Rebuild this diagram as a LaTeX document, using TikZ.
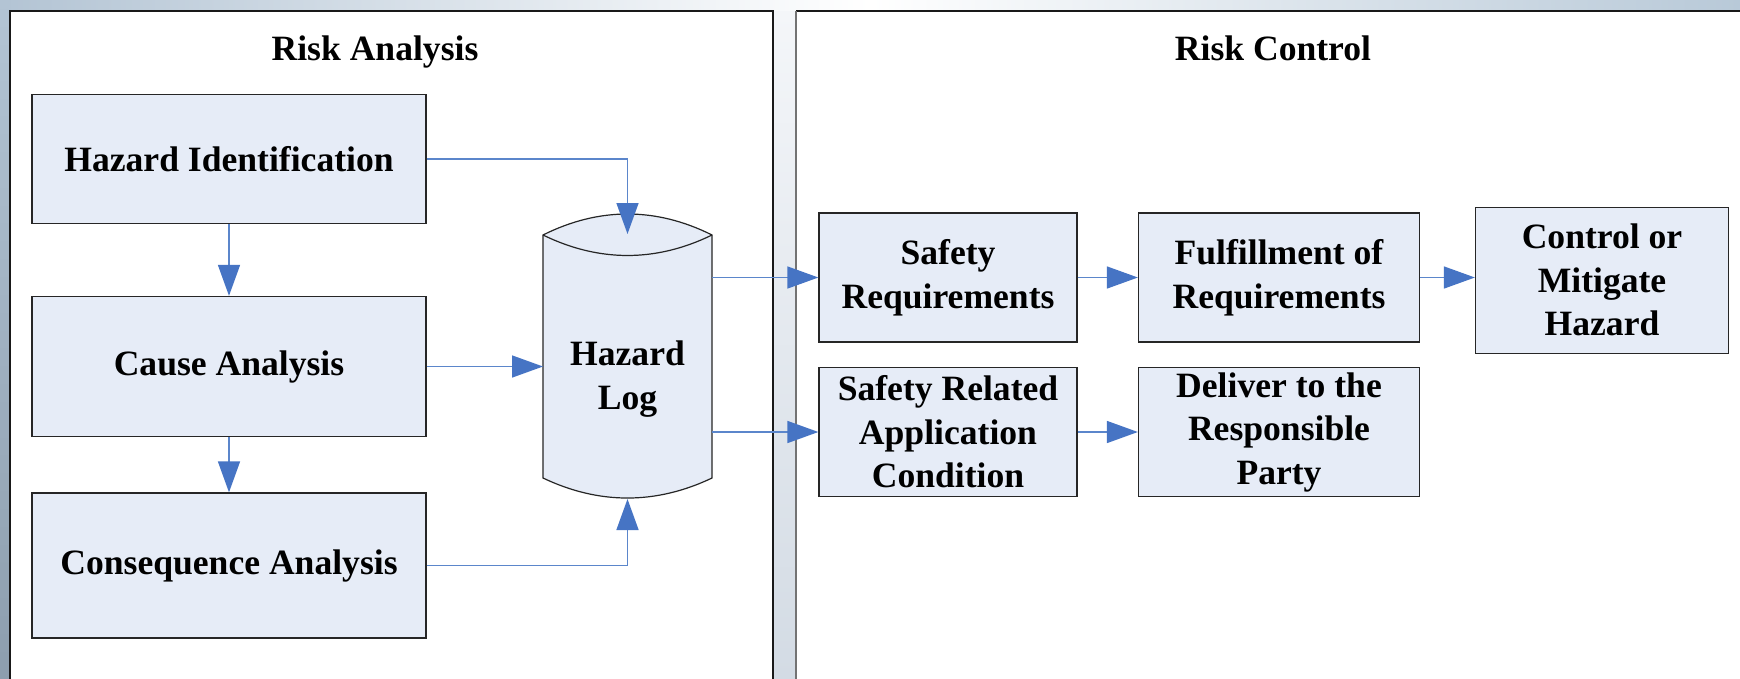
\documentclass[tikz,border=0pt]{standalone}
\usepackage{fontspec}
\setmainfont{Liberation Serif}
\usetikzlibrary{arrows.meta,calc}
\definecolor{boxfill}{HTML}{E6ECF7}
\definecolor{arrline}{HTML}{5B86CB}
\definecolor{arrhead}{HTML}{4674C4}
\definecolor{bgL}{HTML}{B3C4D4}
\definecolor{bgR}{HTML}{B8C9D8}
\definecolor{bgLdark}{HTML}{8D9EAE}
\definecolor{gapTop}{HTML}{F4F6F9}
\definecolor{gapBot}{HTML}{D3DBE4}
\begin{document}
\begin{tikzpicture}[x=1pt,y=-1pt,
  lbl/.style={font=\fontsize{35.6}{43.5}\selectfont\bfseries, align=center},
  box/.style={lbl, draw=black!85, line width=1.3pt, fill=boxfill, inner sep=0pt},
  arr/.style={draw=arrline, line width=1.5pt, -{Triangle[length=31pt,width=22pt,color=arrhead]}},
  title/.style={lbl, anchor=base},
  cyl/.style={draw=black!85, line width=1.2pt, fill=boxfill}
]
\useasboundingbox (0,0) rectangle (1740,678);
\clip (0,0) rectangle (1740,678);
% background
\shade[left color=bgL, right color=bgR, middle color=white] (0,0) rectangle (1740,678);
\shade[top color=bgL, bottom color=bgLdark] (0,0) rectangle (10,678);
\shade[top color=gapTop, bottom color=gapBot] (773,11) rectangle (796,678);
% panels
\path[fill=white] (10,11) rectangle (773,690);
\draw[black!90, line width=1.3pt] (10,690) -- (10,11) -- (773,11) -- (773,690);
\path[fill=white] (796,11) rectangle (1750,690);
\draw[black!90, line width=1.3pt] (796,11) -- (1750,11);
\draw[black!55, line width=1.5pt] (796,11) -- (796,690);
% titles
\node[title] (ttlA) at (375,60) {Risk Analysis};
\node[title] (ttlC) at (1273,60) {Risk Control};
% left boxes
\node[box, minimum width=394pt, minimum height=129pt] (hi) at (229,159) {Hazard Identification};
\node[box, minimum width=394pt, minimum height=140pt] (ca) at (229,366.5) {Cause Analysis};
\node[box, minimum width=394pt, minimum height=145pt] (coa) at (229,565.5) {Consequence Analysis};
% cylinder
\coordinate (cylTL) at (543,235);
\coordinate (cylTR) at (712,235);
\coordinate (cylBL) at (543,478);
\coordinate (cylBR) at (712,478);
\coordinate (logtop) at (627.5,234);
\coordinate (logbot) at (627.5,499);
\path[cyl] (cylTL) .. controls (599,207) and (656,207) .. (cylTR) -- (cylBR)
  .. controls (656,504.7) and (599,504.7) .. (cylBL) -- cycle;
\draw[black!85, line width=1.2pt] (cylTL) .. controls (599,262.3) and (656,262.3) .. (cylTR);
\node[lbl] (log) at (627.5,379) {Hazard\\Log};
% right boxes
\node[box, minimum width=258pt, minimum height=129pt] (sr) at (948,277.5) {Safety\\Requirements};
\node[box, minimum width=258pt, minimum height=129pt] (srac) at (948,432) {Safety Related\\Application\\Condition};
\node[box, minimum width=281pt, minimum height=129pt] (ful) at (1279,277.5) {Fulfillment of\\Requirements};
\node[box, minimum width=281pt, minimum height=129pt] (del) at (1279,432) {Deliver to the\\Responsible\\Party};
\node[box, minimum width=253pt, minimum height=146pt] (cmh) at (1602,280.3) {Control or\\Mitigate\\Hazard};
% connectors
\draw[arr] (hi.south) -- (ca.north);
\draw[arr] (ca.south) -- (coa.north);
\draw[arr] (hi.east) -| (logtop);
\draw[arr] (ca.east) -- (ca.east -| cylTL);
\draw[arr] (coa.east) -| (logbot);
\draw[arr] (cylTR |- sr.west) -- (sr.west);
\draw[arr] (cylTR |- srac.west) -- (srac.west);
\draw[arr] (sr.east) -- (ful.west);
\draw[arr] (srac.east) -- (del.west);
\draw[arr] (ful.east) -- (ful.east -| cmh.west);
\end{tikzpicture}
\end{document}
